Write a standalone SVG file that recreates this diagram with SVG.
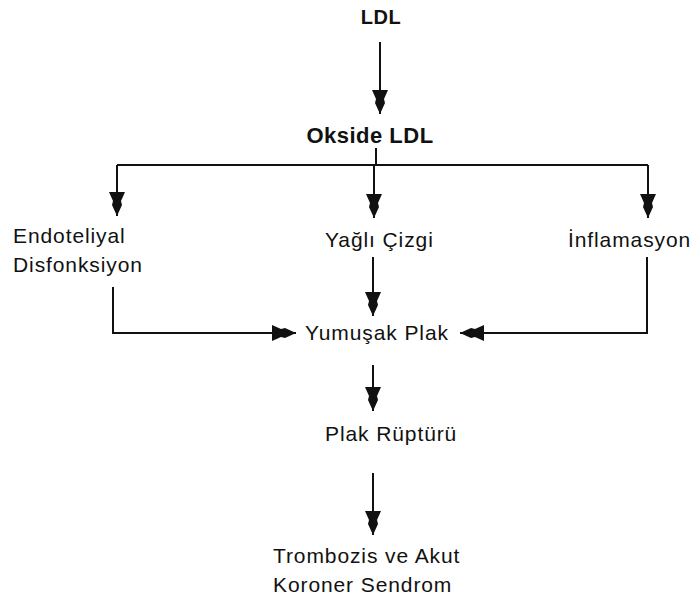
<svg xmlns="http://www.w3.org/2000/svg" width="700" height="601" viewBox="0 0 700 601">
<style>
text{font-family:"Liberation Sans",Arial,sans-serif;fill:#111;}
.r{font-size:21px;letter-spacing:0.9px;}
.b{font-weight:bold;}
.c{fill:none;stroke:#111;stroke-width:2;}
</style>
<defs>
<marker id="ah" markerUnits="userSpaceOnUse" markerWidth="30" markerHeight="22" viewBox="-26 -11 28 22" refX="0" refY="0" orient="auto">
<path d="M0,0 L-11,-5 L-15,-4 L-24,-8 L-24,8 L-15,4 L-11,5 Z" fill="#111"/>
</marker>
</defs>
<rect width="700" height="601" fill="#fff"/>
<g id="connectors">
<path class="c" d="M380,42 L380,114" marker-end="url(#ah)"/>
<path class="c" d="M376,148 L376,165"/>
<path class="c" d="M117,165 L648,165"/>
<path class="c" d="M117,165 L117,216" marker-end="url(#ah)"/>
<path class="c" d="M374,165 L374,218" marker-end="url(#ah)"/>
<path class="c" d="M648,165 L648,218" marker-end="url(#ah)"/>
<path class="c" d="M373,257 L373,316" marker-end="url(#ah)"/>
<path class="c" d="M113,287 L113,333 L296,333" marker-end="url(#ah)"/>
<path class="c" d="M647,257 L647,333 L460,333" marker-end="url(#ah)"/>
<path class="c" d="M373,365 L373,411" marker-end="url(#ah)"/>
<path class="c" d="M373,473 L373,535" marker-end="url(#ah)"/>
</g>
<g id="n-ldl"><text class="b" x="381" y="24" font-size="20" text-anchor="middle" letter-spacing="0.5">LDL</text></g>
<g id="n-okside"><text class="b" x="370" y="143" font-size="22" text-anchor="middle" letter-spacing="0.5">Okside LDL</text></g>
<g id="n-endoteliyal"><text class="r" x="13" y="243">Endoteliyal</text><text class="r" x="13" y="272">Disfonksiyon</text></g>
<g id="n-yagli"><text class="r" x="325" y="247">Yağlı Çizgi</text></g>
<g id="n-inflamasyon"><text class="r" x="568" y="247">İnflamasyon</text></g>
<g id="n-yumusak"><text class="r" x="305" y="340">Yumuşak Plak</text></g>
<g id="n-ruptur"><text class="r" x="325" y="441">Plak Rüptürü</text></g>
<g id="n-trombozis"><text class="r" x="273" y="563">Trombozis ve Akut</text><text class="r" x="273" y="592">Koroner Sendrom</text></g>
</svg>
